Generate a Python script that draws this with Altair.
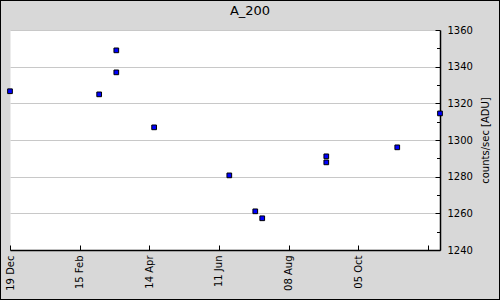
import altair as alt
import pandas as pd

# Observations
dates = ["2012-12-19T00:00", "2013-03-03T06:00", "2013-03-17T12:00", "2013-03-17T12:00",
         "2013-04-18T00:00", "2013-06-19T14:00", "2013-07-11T05:00", "2013-07-17T00:00",
         "2013-09-08T08:00", "2013-09-08T08:00", "2013-11-06T10:00", "2013-12-12T00:00"]
counts = [1326.6, 1324.9, 1348.9, 1336.9, 1306.9, 1280.7, 1261.1, 1257.3,
          1291.1, 1287.8, 1296.0, 1314.5]

# Axis definitions
title_text = "A_200"
x_domain = ["2012-12-19T00:00", "2013-12-12T00:00"]
x_label_dates = ["2012-12-19", "2013-02-15", "2013-04-14", "2013-06-11", "2013-08-08", "2013-10-05"]
x_tick_dates = x_label_dates + ["2013-12-02"]
y_domain = [1240, 1360]
y_major = [1240, 1260, 1280, 1300, 1320, 1340, 1360]
y_minor = [1250, 1270, 1290, 1310, 1330, 1350]

W, H = 430, 220

df = pd.DataFrame({"date": dates, "counts": counts})


def dt(s):
    y, m, d = s.split("-")
    return alt.DateTime(year=int(y), month=int(m), date=int(d))


xscale = alt.Scale(domain=x_domain, nice=False)
yscale = alt.Scale(domain=y_domain, nice=False, zero=False)

points = alt.Chart(df).mark_square(
    size=22, color="#0000ff", stroke="black", strokeWidth=1, opacity=1, clip=False
).encode(
    x=alt.X("date:T", scale=xscale, axis=alt.Axis(
        orient="bottom", values=[dt(s) for s in x_label_dates], format="%d %b",
        labelAngle=270, ticks=False, grid=False, domain=True, domainColor="black",
        domainWidth=1.5, labelPadding=5, labelFlush=False, labelFontSize=10,
        labelFont="DejaVu Sans", labelColor="black", title=None, labelOverlap=False)),
    y=alt.Y("counts:Q", scale=yscale, axis=alt.Axis(
        orient="right", values=y_major, format="d", ticks=False, grid=True,
        gridColor="#c8c8c8", domain=True, domainColor="black", domainWidth=1.5,
        labelPadding=7, labelFontSize=10, labelFont="DejaVu Sans", labelColor="black",
        title="counts/sec [ADU]", titleAngle=270, titleFontSize=10,
        titleFont="DejaVu Sans", titleFontWeight="normal", titleColor="black",
        titlePadding=18, labelOverlap=False)),
)

major_ticks = alt.Chart(df).mark_point(opacity=0).encode(
    x=alt.X("date:T", scale=xscale, axis=alt.Axis(
        orient="top", offset=-H, values=[dt(s) for s in x_tick_dates], labels=False,
        domain=False, grid=False, ticks=True, tickSize=5, tickColor="black",
        tickWidth=1, title=None)),
    y=alt.Y("counts:Q", scale=yscale, axis=alt.Axis(
        orient="left", offset=-W, values=y_major, labels=False, domain=False,
        grid=False, ticks=True, tickSize=5, tickColor="black", tickWidth=1, title=None)),
)

minor_ticks = alt.Chart(df).mark_point(opacity=0).encode(
    y=alt.Y("counts:Q", scale=yscale, axis=alt.Axis(
        orient="left", offset=-W, values=y_minor, labels=False, domain=False,
        grid=False, ticks=True, tickSize=3.5, tickColor="black", tickWidth=1, title=None)),
)

frame = alt.Chart(pd.DataFrame({"k": [0]})).mark_rect(
    fill="transparent", stroke="black", strokeWidth=2, clip=False
).encode(
    x=alt.value(-10), x2=alt.value(W + 60), y=alt.value(-30), y2=alt.value(H + 50)
)

title = alt.Chart(pd.DataFrame({"t": [title_text]})).mark_text(
    font="DejaVu Sans", fontSize=13, color="black", align="center", baseline="alphabetic",
    clip=False
).encode(text="t:N", x=alt.value(240), y=alt.value(-15))

chart = alt.layer(frame, title, minor_ticks, major_ticks, points).resolve_axis(
    x="independent", y="independent"
).properties(
    width=W, height=H,
    autosize=alt.AutoSizeParams(type="none"),
    padding={"left": 10, "top": 30, "right": 60, "bottom": 50},
    background="#d8d8d8",
).configure_view(stroke="transparent", fill="white")

chart.save("out.html", embed_options={"renderer": "svg", "actions": False})
